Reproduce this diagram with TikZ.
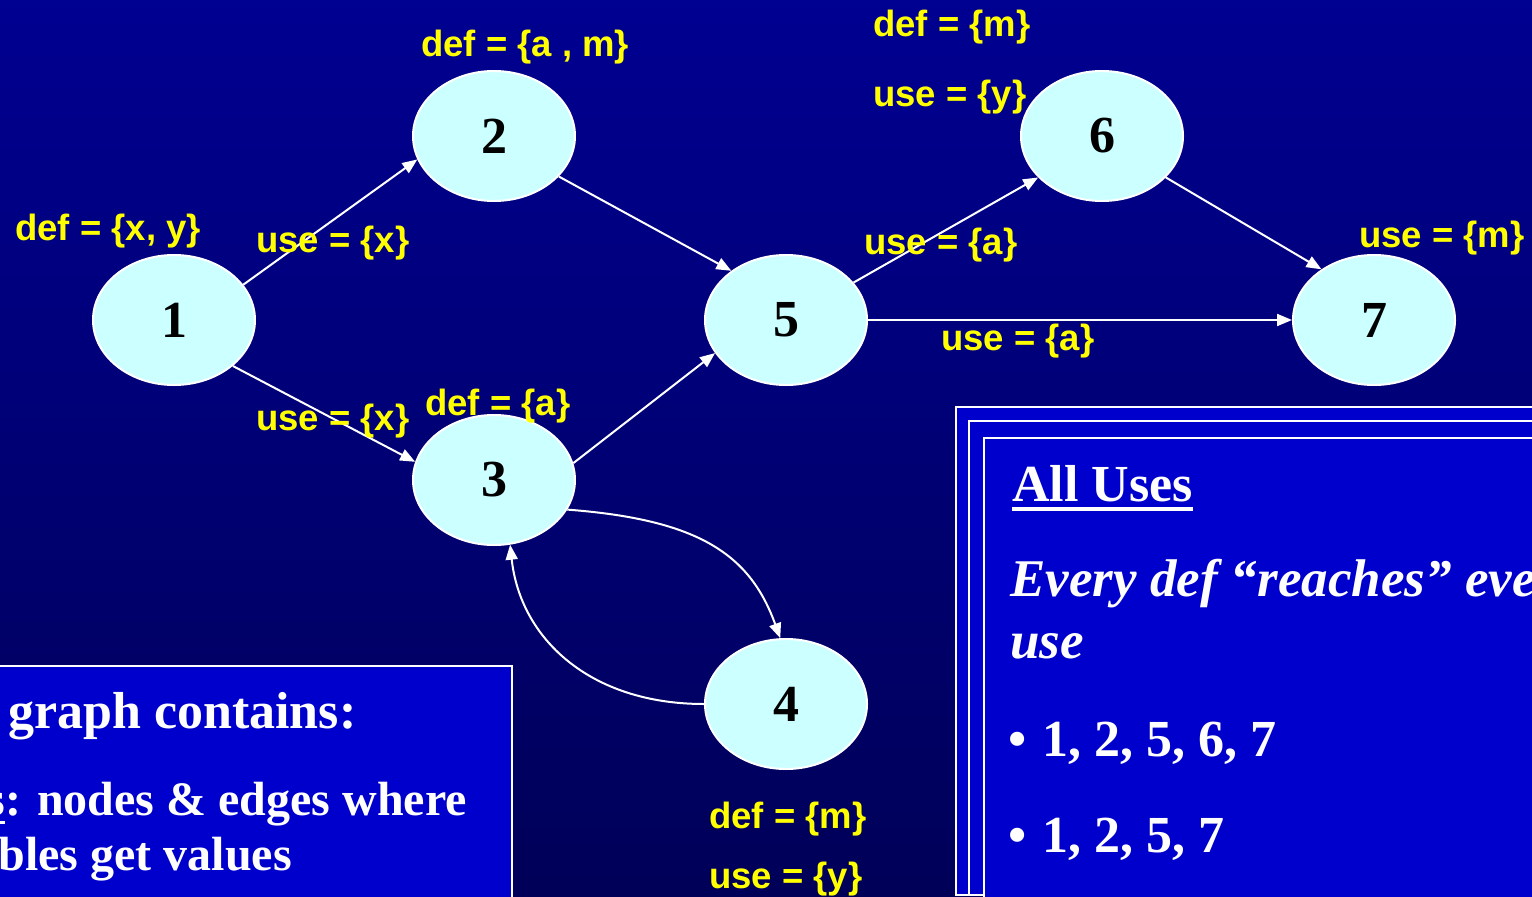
\documentclass[tikz,border=0pt]{standalone}
\usepackage{fontspec}
\setmainfont{Liberation Serif}
\newfontfamily\labfont{Liberation Sans}
\usetikzlibrary{shapes.geometric,arrows.meta}
\definecolor{bgtop}{RGB}{0,0,145}
\definecolor{bgbot}{RGB}{0,0,88}
\definecolor{boxblue}{RGB}{0,0,204}
\definecolor{nodecyan}{RGB}{204,255,255}
\definecolor{labyellow}{RGB}{255,255,0}
\begin{document}
\begin{tikzpicture}[x=1pt,y=1pt,
  vnode/.style={ellipse,draw=white,line width=2pt,fill=nodecyan,minimum width=162pt,minimum height=130pt,inner sep=0pt,font=\fontsize{52}{60}\selectfont\bfseries},
  lab/.style={anchor=west,inner sep=0pt,yshift=-3pt,text=labyellow,font=\labfont\fontsize{36.5}{40}\selectfont\bfseries},
  flow/.style={draw=white,line width=2pt,-{Triangle[length=15pt,width=12pt]}},
  boxtext/.style={inner sep=0pt,text=white,font=\fontsize{52}{60}\selectfont\bfseries},
  smalltext/.style={inner sep=0pt,text=white,font=\fontsize{48}{56}\selectfont\bfseries},
  panel/.style={fill=boxblue,draw=white,line width=2pt}]
\useasboundingbox (0,0) rectangle (1532,-897);
\clip (0,0) rectangle (1532,-897);
\shade[top color=bgtop,bottom color=bgbot] (0,0) rectangle (1532,-897);

% panels
\draw[panel] (-10,-666) rectangle (512,-910);
\draw[panel] (956,-407) rectangle (1545,-895);
\draw[panel] (969,-421) rectangle (1545,-895);
\draw[panel] (984,-438) rectangle (1545,-910);

% nodes
\node[vnode] (n1) at (174,-320) {1};
\node[vnode] (n2) at (494,-136) {2};
\node[vnode] (n3) at (494,-480) {3};
\node[vnode] (n4) at (786,-704) {4};
\node[vnode] (n5) at (786,-320) {5};
\node[vnode] (n6) at (1102,-136) {6};
\node[vnode] (n7) at (1374,-320) {7};

% edges
\draw[flow] (n1.27) -- (n2.197);
\draw[flow] (n2.-32) -- (n5.138);
\draw[flow] (n1.-38) -- (n3.167);
\draw[flow] (n3.12) -- (n5.205);
\draw[flow] (n5.29) -- (n6.213);
\draw[flow] (n5.east) -- (n7.west);
\draw[flow] (n6.-33) -- (n7.136);
\draw[flow] (n3.-22) .. controls +(133,-10) and +(-30,83) .. (n4.95);
\draw[flow] (n4.west) .. controls +(-115,0) and +(10,-93) .. (n3.-76);

% labels
\node[lab] (l2def) at (421,-44) {def = \{a , m\}};
\node[lab] (l1def) at (15,-228) {def = \{x, y\}};
\node[lab] (l12use) at (256,-240) {use = \{x\}};
\node[lab] (l13use) at (256,-418) {use = \{x\}};
\node[lab] (l3def) at (425,-403) {def = \{a\}};
\node[lab] (l6def) at (873,-24) {def = \{m\}};
\node[lab] (l6use) at (873,-94) {use = \{y\}};
\node[lab] (l56use) at (864,-242) {use = \{a\}};
\node[lab] (l57use) at (941,-338) {use = \{a\}};
\node[lab] (l7use) at (1359,-235) {use = \{m\}};
\node[lab] (l4def) at (709,-816) {def = \{m\}};
\node[lab] (l4use) at (709,-876) {use = \{y\}};

% left panel text
\node[boxtext,anchor=base west] (g1) at (8,-728) {graph contains:};
\node[smalltext,anchor=base east] (g2s) at (5,-815) {s};
\node[smalltext,anchor=base west] (g2) at (g2s.base east) {: nodes \& edges where};
\draw[white,line width=3pt] ([yshift=-7pt]g2s.base west) -- ([yshift=-7pt]g2s.base east);
\node[smalltext,anchor=base east] (g3) at (292,-870) {bles get values};

% right panel text
\node[boxtext,anchor=base west] (allu) at (1012,-501) {All Uses};
\draw[white,line width=4pt] ([yshift=-8pt]allu.base west) -- ([yshift=-8pt]allu.base east);
\node[boxtext,anchor=base west,font=\fontsize{53}{60}\selectfont\bfseries\itshape] (ev1) at (1010,-596) {Every def “reaches” every};
\node[boxtext,anchor=base west,font=\fontsize{53}{60}\selectfont\bfseries\itshape] (ev2) at (1010,-658) {use};
\node[boxtext,anchor=base west] (b1) at (1008,-756) {•};
\node[boxtext,anchor=base west] (p1) at (1042,-756) {1, 2, 5, 6, 7};
\node[boxtext,anchor=base west] (b2) at (1008,-852) {•};
\node[boxtext,anchor=base west] (p2) at (1042,-852) {1, 2, 5, 7};
\end{tikzpicture}
\end{document}
